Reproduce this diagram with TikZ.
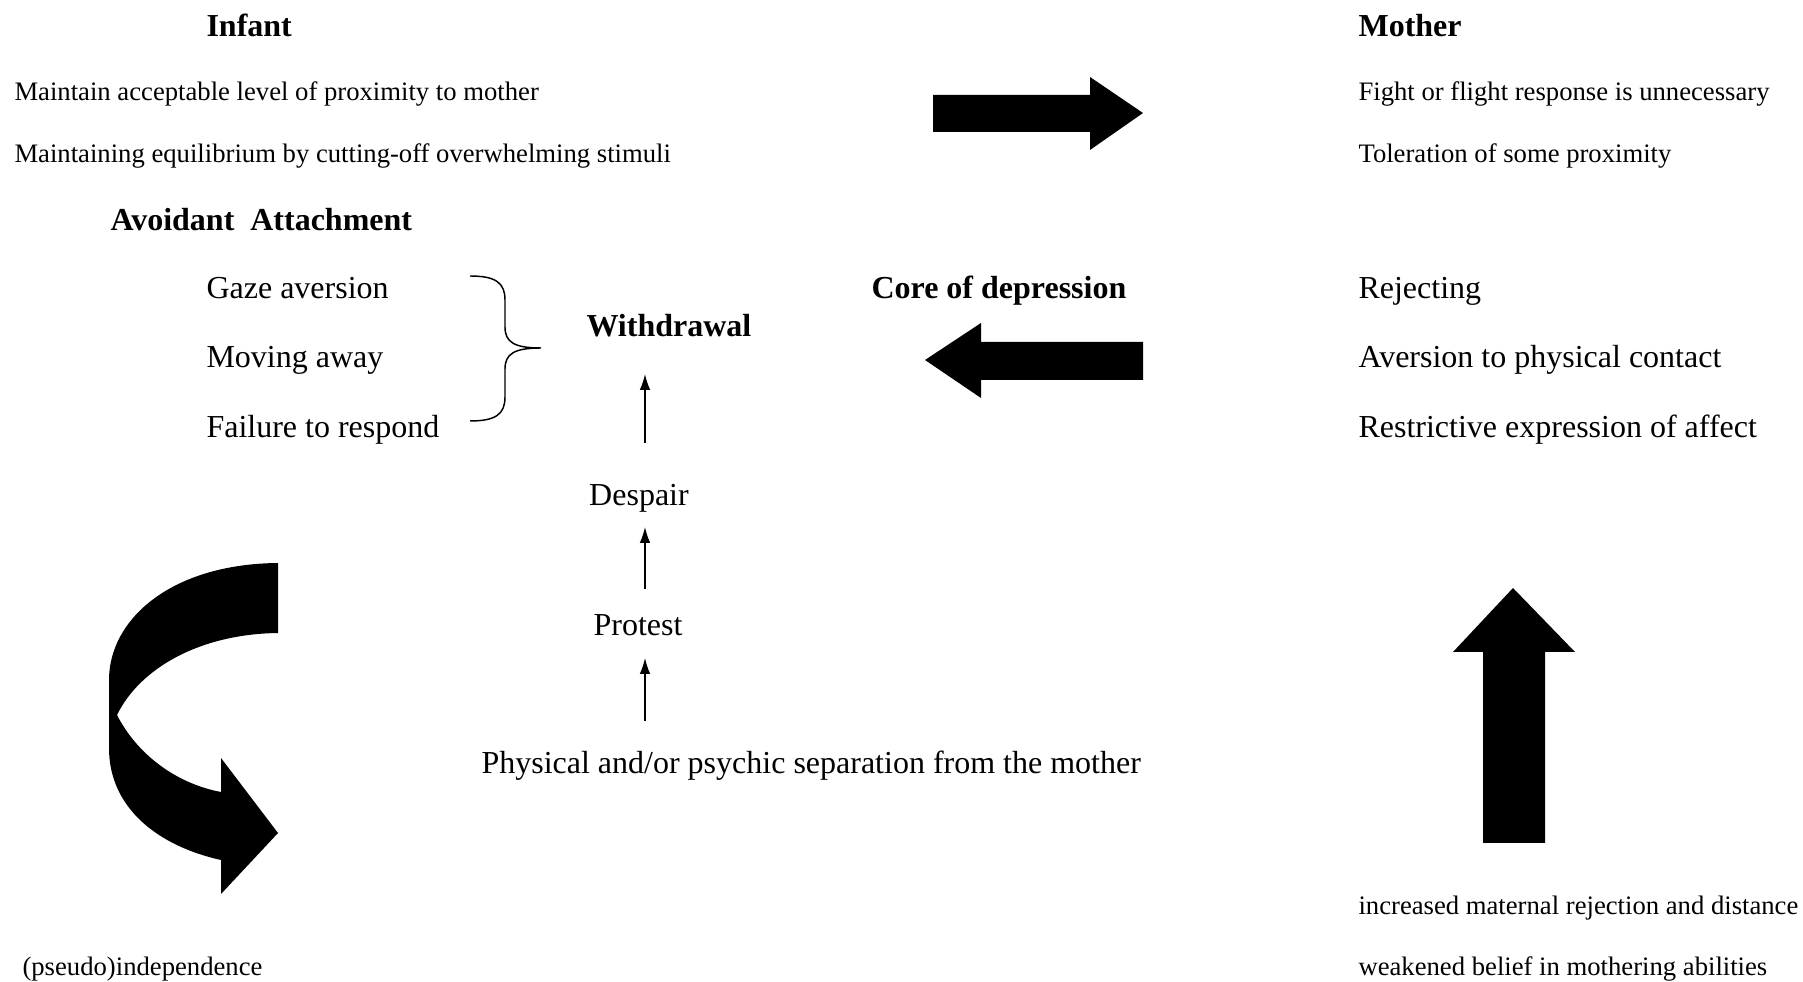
\documentclass[tikz,border=0pt]{standalone}
\usepackage{fontspec}
\setmainfont{Liberation Serif}
\usetikzlibrary{arrows.meta}
\begin{document}
\begin{tikzpicture}[x=0.375pt,y=-0.375pt]
		\useasboundingbox (0,0) rectangle (1803,982);
		\tikzset{txt/.style={anchor=base west,inner sep=0pt,font=\fontsize{12}{14}\selectfont},
			small/.style={txt,font=\fontsize{10}{12}\selectfont},
			head/.style={txt,font=\fontsize{12}{14}\selectfont\bfseries},
			stepline/.style={line width=0.55pt,-{Latex[length=6pt,width=4pt]}}}
		
		% headings and left column
		\node[head] (infant) at (206,37) {Infant};
		\node[small] (keep) at (14,101) {Maintain acceptable level of proximity to mother};
		\node[small] (equil) at (14,163) {Maintaining equilibrium by cutting-off overwhelming stimuli};
		\node[head] (avoid) at (110,231) {Avoidant\ \ Attachment};
		\node[txt] (gaze) at (206,299) {Gaze aversion};
		\node[txt] (moving) at (206,368) {Moving away};
		\node[txt] (failure) at (206,438) {Failure to respond};
		\node[small] (pseudo) at (22,976) {(pseudo)independence};
		
		% middle column
		\node[head] (withdraw) at (586,337) {Withdrawal};
		\node[txt,anchor=base] (despair) at (639,506) {Despair};
		\node[txt,anchor=base] (protest) at (638,636) {Protest};
		\node[txt] (separation) at (481,774) {Physical and/or psychic separation from the mother};
		\node[head] (core) at (871,299) {Core of depression};
		
		% right column
		\node[head] (mother) at (1358,37) {Mother};
		\node[small] (fight) at (1358,101) {Fight or flight response is unnecessary};
		\node[small] (tolerate) at (1358,163) {Toleration of some proximity};
		\node[txt] (rejecting) at (1358,299) {Rejecting};
		\node[txt] (aversion) at (1358,368) {Aversion to physical contact};
		\node[txt] (restrict) at (1358,438) {Restrictive expression of affect};
		\node[small] (increased) at (1358,914) {increased maternal rejection and distance};
		\node[small] (weakened) at (1358,976) {weakened belief in mothering abilities};
		
		% brace
		\draw[line width=0.55pt] (470,276) .. controls (496,276) and (505,283) .. (505,300) -- (505,327)
			.. controls (505,342) and (514,348) .. (541,348)
			.. controls (514,348) and (505,354) .. (505,369) -- (505,397)
			.. controls (505,414) and (496,421) .. (470,421);
		
		% small arrows
		\coordinate (s1) at (645,443); \coordinate (e1) at (645,374);
		\coordinate (s2) at (645,589); \coordinate (e2) at (645,527);
		\coordinate (s3) at (645,721); \coordinate (e3) at (645,658);
		\draw[stepline] (s1) -- (e1);
		\draw[stepline] (s2) -- (e2);
		\draw[stepline] (s3) -- (e3);
		
		% block arrows
		\fill (933,95) -- (1090,95) -- (1090,77) -- (1143,113) -- (1090,150) -- (1090,132) -- (933,132) -- cycle;
		\fill (1143,342) -- (981,342) -- (981,323) -- (925,360) -- (981,398) -- (981,380) -- (1143,380) -- cycle;
		\fill (1483,843) -- (1483,652) -- (1453,652) -- (1513,588) -- (1575,652) -- (1545,652) -- (1545,843) -- cycle;
		\fill (278,563) .. controls (170,564) and (109,620) .. (109,680) -- (109,748)
			.. controls (109,808) and (158,846) .. (221,860) -- (221,894) -- (278,833) -- (221,758) -- (221,792)
			.. controls (178,784) and (138,756) .. (117,715)
			.. controls (140,668) and (200,634) .. (278,633) -- cycle;
		
\end{tikzpicture}
\end{document}
